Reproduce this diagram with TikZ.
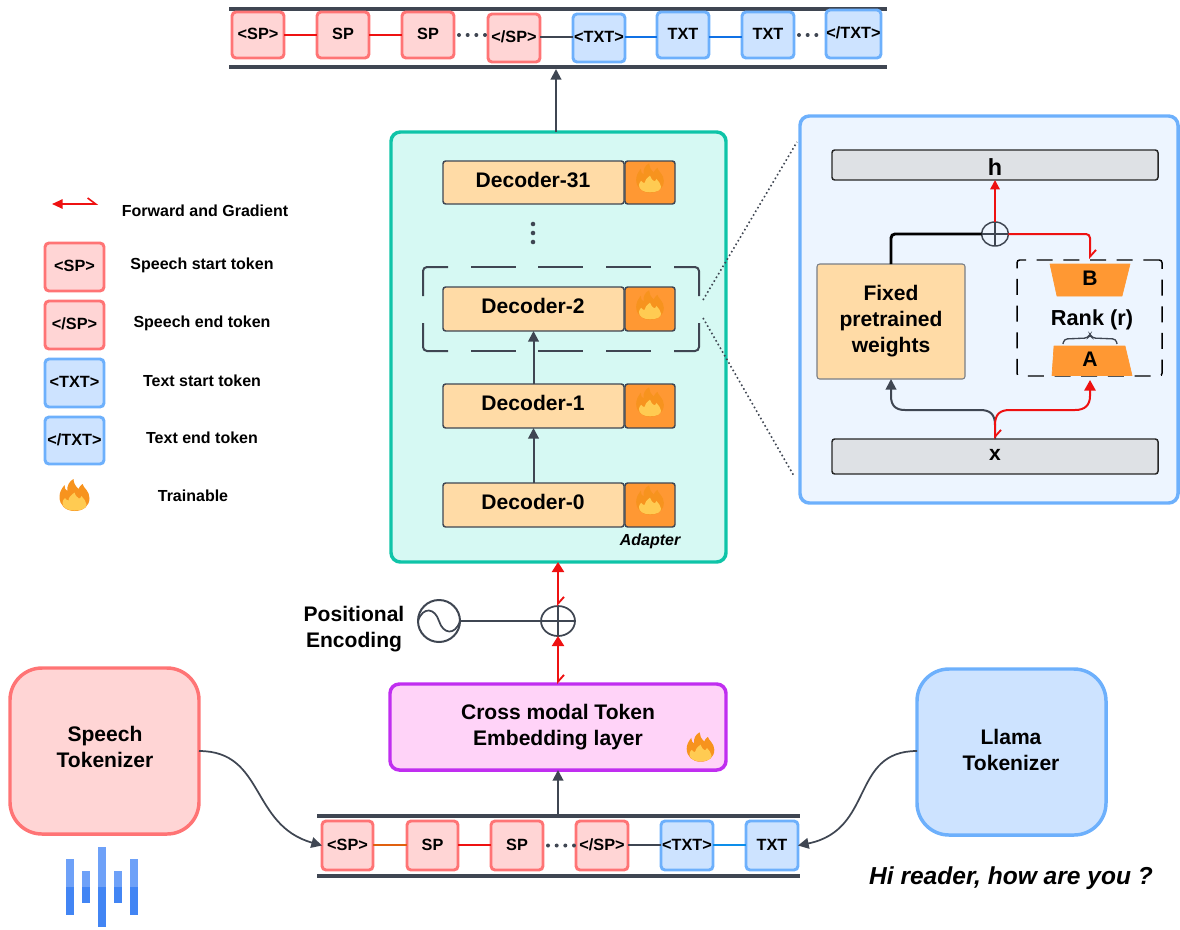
\documentclass[tikz,border=0pt]{standalone}
\usepackage{fontspec}
\setmainfont{Liberation Sans}
\usetikzlibrary{arrows.meta,calc,shapes.geometric}
\definecolor{ink}{HTML}{3F4652}
\definecolor{rd}{HTML}{EE1111}
\definecolor{spB}{HTML}{FF7475}
\definecolor{spF}{HTML}{FFD5D5}
\definecolor{txB}{HTML}{6DB0FC}
\definecolor{txF}{HTML}{CDE3FF}
\definecolor{tkB}{HTML}{0FC4A8}
\definecolor{tkF}{HTML}{D6F9F3}
\definecolor{puB}{HTML}{C02EF0}
\definecolor{puF}{HTML}{FFD3F8}
\definecolor{panF}{HTML}{EDF5FF}
\definecolor{decF}{HTML}{FFDBA6}
\definecolor{orF}{HTML}{FF9833}
\definecolor{grF}{HTML}{DEE1E5}
\definecolor{flO}{HTML}{F7931E}
\definecolor{flY}{HTML}{FFCB52}
\definecolor{bl}{HTML}{1071E5}
\definecolor{brn}{HTML}{E0600F}
\newcommand{\bx}[6]{%
  \pgfmathsetmacro{\cxx}{(#2+#4)/2}\pgfmathsetmacro{\cyy}{(#3+#5)/2}%
  \pgfmathsetmacro{\www}{abs(#4-#2)*0.75}\pgfmathsetmacro{\hhh}{abs(#5-#3)*0.75}%
  \node[#6, minimum width=\www pt, minimum height=\hhh pt] (#1) at (\cxx,\cyy)}
\tikzset{
  x=0.75pt,y=-0.75pt,
  every node/.style={inner sep=0pt,outer sep=0pt,text=black},
  sptok/.style={draw=spB,fill=spF,line width=2.2pt,rounded corners=3pt,font=\bfseries\fontsize{12.2pt}{14pt}\selectfont,text height=0.7em,text depth=0pt},
  txtok/.style={draw=txB,fill=txF,line width=2.2pt,rounded corners=3pt,font=\bfseries\fontsize{12.2pt}{14pt}\selectfont,text height=0.7em,text depth=0pt},
  dec/.style={draw=ink,fill=decF,line width=1.1pt,rounded corners=2pt},
  dectxt/.style={font=\bfseries\fontsize{15.8pt}{18pt}\selectfont},
  orbox/.style={draw=ink,fill=orF,line width=1.1pt,rounded corners=2pt},
  grbox/.style={draw=black!85,fill=grF,line width=1.1pt,rounded corners=2pt},
  bartxt/.style={font=\bfseries\fontsize{15.8pt}{19.5pt}\selectfont,align=center},
  legtxt/.style={font=\bfseries\fontsize{12pt}{14pt}\selectfont},
  inkarrow/.style={draw=ink,line width=1.5pt,-{Triangle[length=8pt,width=8pt]}},
  redarrow/.style={draw=rd,line width=1.6pt,{Triangle[length=7.5pt,width=9pt]}-{Straight Barb[left,length=5pt,width=9pt,line width=1.4pt]}},
  redbarb/.style={draw=rd,line width=1.5pt,-{Straight Barb[left,length=5pt,width=9pt,line width=1.4pt]}},
  dotline/.style={draw=ink,line width=3pt,line cap=round,dash pattern=on 0pt off 6.5pt},
  rule/.style={draw=ink,line width=2.3pt},
  flame/.pic={
    \fill[flO] (0,16) .. controls (-9,16) and (-15,10) .. (-15,2)
      .. controls (-15,-3) and (-13,-6) .. (-10,-10)
      .. controls (-10,-7) and (-9,-5) .. (-7,-4)
      .. controls (-8,-9) and (-5,-14) .. (-1,-16)
      .. controls (-1,-12) and (1,-9) .. (4,-6)
      .. controls (5,-8) and (6,-10) .. (8,-11)
      .. controls (9,-7) and (15,-4) .. (15,3)
      .. controls (15,11) and (9,16) .. (0,16) -- cycle;
    \fill[flY] (0,15.5) .. controls (-8,15.5) and (-12,12) .. (-12,8)
      .. controls (-12,6) and (-11,4) .. (-9.5,3)
      .. controls (-8.5,4.5) and (-7.5,5.5) .. (-6,5.5)
      .. controls (-6,2) and (-3,0) .. (0,-2.5)
      .. controls (1,1) and (3,2.5) .. (4.5,3.5)
      .. controls (5.5,3.5) and (6.5,2.5) .. (7,1)
      .. controls (9,4) and (12,6) .. (12,9.5)
      .. controls (12,13) and (8,15.5) .. (0,15.5) -- cycle;
  }
}
\begin{document}
\begin{tikzpicture}
\useasboundingbox (0,0) rectangle (1180,929);
% --- top sequence
\coordinate (tl1) at (229,9); \coordinate (tr1) at (887,9);
\coordinate (tl2) at (229,67); \coordinate (tr2) at (887,67);
\draw[rule] (tl1)--(tr1); \draw[rule] (tl2)--(tr2);
\bx{t1}{232}{12}{284}{58}{sptok} {<SP>};
\bx{t2}{317}{12}{369}{58}{sptok} {SP};
\bx{t3}{402}{12}{454}{58}{sptok} {SP};
\bx{t4}{488}{14}{540}{62}{sptok} {</SP>};
\bx{t5}{573}{14}{625}{62}{txtok} {<TXT>};
\bx{t6}{657}{12}{709}{58}{txtok} {TXT};
\bx{t7}{742}{12}{794}{58}{txtok} {TXT};
\bx{t8}{826}{10}{881}{58}{txtok} {</TXT>};
\draw[rd,line width=1.2pt] (t1.east|-0,35)--(t2.west|-0,35);
\draw[rd,line width=1.2pt] (t2.east|-0,35)--(t3.west|-0,35);
\draw[ink,line width=1.1pt] (t4.east|-0,37)--(t5.west|-0,37);
\draw[bl,line width=2pt] (t5.east|-0,37)--(t6.west|-0,37);
\draw[bl,line width=2pt] (t6.east|-0,37)--(t7.west|-0,37);
\draw[dotline] ($(t3.east|-0,35)+(5,0)$)--($(t4.west|-0,35)+(-1.5,0)$);
\draw[dotline] ($(t7.east|-0,35)+(5,0)$)--($(t8.west|-0,35)+(-1.5,0)$);
% --- adapter
\bx{adapter}{391}{132}{726}{562}{draw=tkB,fill=tkF,line width=2.6pt,rounded corners=7pt} {};
\draw[inkarrow] (adapter.north-|556,0)--(556,69);
\node[font=\bfseries\itshape\fontsize{12pt}{14pt}\selectfont] (adlab) at (650,541) {Adapter};
\bx{d31}{443}{161}{624}{204}{dec} {};
\node[dectxt] (d31t) at (533,180) {Decoder-31};
\bx{f31}{625}{161}{675}{204}{orbox} {};
\pic[scale=0.92] at (650,178) {flame};
\node[circle,fill=ink,minimum size=3.4pt] (v1) at (533,224) {};
\node[circle,fill=ink,minimum size=3.4pt] (v2) at (533,233) {};
\node[circle,fill=ink,minimum size=3.4pt] (v3) at (533,242) {};
\bx{dsh}{423}{267}{699}{351}{} {};
\draw[ink,line width=1.5pt,rounded corners=3pt] (423,296)--(423,267)--(448,267);
\draw[ink,line width=1.5pt,rounded corners=3pt] (674,267)--(699,267)--(699,296);
\draw[ink,line width=1.5pt,rounded corners=3pt] (423,323)--(423,351)--(448,351);
\draw[ink,line width=1.5pt,rounded corners=3pt] (674,351)--(699,351)--(699,323);
\foreach \xa in {471,538,606}{
  \draw[ink,line width=1.5pt] (\xa,267)--(\xa+45,267);
  \draw[ink,line width=1.5pt] (\xa,351)--(\xa+45,351);
}
\bx{d2}{443}{287}{624}{331}{dec} {};
\node[dectxt] (d2t) at (533,306) {Decoder-2};
\bx{f2}{625}{287}{675}{331}{orbox} {};
\pic[scale=0.92] at (650,305) {flame};
\bx{d1}{443}{384}{624}{428}{dec} {};
\node[dectxt] (d1t) at (533,403) {Decoder-1};
\bx{f1}{625}{384}{675}{428}{orbox} {};
\pic[scale=0.92] at (650,402) {flame};
\bx{d0}{443}{483}{624}{527}{dec} {};
\node[dectxt] (d0t) at (533,502) {Decoder-0};
\bx{f0}{625}{483}{675}{527}{orbox} {};
\pic[scale=0.92] at (650,500) {flame};
\draw[inkarrow] (d0.north)--(d1.south);
\draw[inkarrow] (d1.north)--(d2.south);
% --- panel
\bx{panel}{800}{116}{1178}{503}{draw=txB,fill=panF,line width=2.6pt,rounded corners=7pt} {};
\coordinate (za) at (703,300); \coordinate (zb) at (703,318);
\coordinate (zc) at (797,142); \coordinate (zd) at (794,476);
\draw[ink,line width=1.2pt,dotted] (za)--(zc);
\draw[ink,line width=1.2pt,dotted] (zb)--(zd);
\bx{h}{832}{150}{1158}{180}{grbox} {};
\node[font=\bfseries\fontsize{17.5pt}{20pt}\selectfont] (ht) at (995,167) {h};
\bx{x}{832}{439}{1158}{474}{grbox} {};
\node[font=\bfseries\fontsize{15.8pt}{18pt}\selectfont] (xt) at (995,455) {x};
\bx{fix}{817}{264}{965}{379}{draw=ink!70,fill=decF,line width=0.8pt,rounded corners=2pt,bartxt} {Fixed\\pretrained\\weights};
\bx{rk}{1017}{260}{1162}{376}{draw=black,line width=1.1pt,rounded corners=2pt,dash pattern=on 12pt off 8pt} {};
\filldraw[fill=orF,draw=orF,line width=0.5pt,line join=round] (1050,264)--(1130,264)--(1122,296)--(1057,296)--cycle;
\filldraw[fill=orF,draw=orF,line width=0.5pt,line join=round] (1054,346)--(1125,346)--(1132,375.5)--(1052,375.5)--cycle;
\node[font=\bfseries\fontsize{15.8pt}{18pt}\selectfont] (bt) at (1090,278) {B};
\node[font=\bfseries\fontsize{15.8pt}{18pt}\selectfont] (at) at (1090,359) {A};
\node[font=\bfseries\fontsize{16.3pt}{18pt}\selectfont] (rt) at (1092,320) {Rank (r)};
\draw[ink,line width=1pt,rounded corners=2.5pt] (1063,344)--(1064,339)--(1088,338)--(1090,334)--(1092,338)--(1116,339)--(1117,344);
\node[ellipse,draw=ink,fill=panF,line width=1.1pt,minimum width=20.2pt,minimum height=18pt] (op2) at (995,234) {};
\draw[ink,line width=1.1pt] (op2.north)--(op2.south) (op2.west)--(op2.east);
\draw[black,line width=2.2pt,rounded corners=3pt] (fix.north)--(891,234)--(op2.west);
\draw[rd,line width=1.5pt,-{Triangle[length=7pt,width=7pt]}] (op2.north)--(h.south);
\draw[redbarb,rounded corners=3pt] (op2.east)--(1090,234)--(1090,259);
\draw[inkarrow] (x.north)--(995,425) .. controls (995,414) and (990,410) .. (980,410) -- (905,410) .. controls (895,410) and (891,405) .. (891,396) -- (fix.south);
\draw[rd,line width=1.5pt,-{Triangle[length=8pt,width=8.5pt]}] (995,425) .. controls (995,414) and (1000,410) .. (1010,410) -- (1075,410) .. controls (1085,410) and (1090,405) .. (1090,396) -- (1090,380);
\draw[redbarb] (995,425)--(x.north);
% --- legend
\coordinate (la) at (98,204); \coordinate (lb) at (52,204);
\draw[rd,line width=1.4pt,{Straight Barb[left,length=6pt,width=9pt,line width=1.2pt]}-{Triangle[length=8pt,width=7pt]}] (la)--(lb);
\node[legtxt] (l0) at (205,211) {Forward and Gradient};
\bx{lg1}{45}{243}{104}{291}{sptok} {<SP>};
\node[legtxt] (l1) at (202,265) {Speech start token};
\bx{lg2}{45}{301}{104}{349}{sptok} {</SP>};
\node[legtxt] (l2) at (202,323) {Speech end token};
\bx{lg3}{45}{359}{104}{407}{txtok} {<TXT>};
\node[legtxt] (l3) at (202,381) {Text start token};
\bx{lg4}{45}{417}{104}{464}{txtok} {</TXT>};
\node[legtxt] (l4) at (202,438) {Text end token};
\pic at (74.5,495) {flame};
\node[legtxt] (l5) at (193,496) {Trainable};
% --- positional
\node[bartxt,text depth=0pt] (pos) at (354,627) {Positional\\Encoding};
\node[circle,draw=ink,line width=1.5pt,minimum size=31.5pt] (sine) at (439,621) {};
\draw[ink,line width=1.3pt] (sine.west) .. controls (423,606) and (435,608) .. (439,621) .. controls (443,634) and (455,636) .. (sine.east);
\node[ellipse,draw=ink,line width=1.3pt,minimum width=25.5pt,minimum height=22.5pt] (op1) at (558,621) {};
\draw[ink,line width=1.3pt] (op1.north)--(op1.south) (op1.west)--(op1.east);
\draw[ink,line width=1.5pt] (sine.east)--(op1.west);
% --- embedding
\bx{emb}{390}{684}{726}{770}{draw=puB,fill=puF,line width=2.6pt,rounded corners=7pt} {};
\node[bartxt] (embt) at (558,727) {Cross modal Token\\Embedding layer};
\pic[scale=0.92] at (700.5,747) {flame};
\draw[redarrow] (adapter.south-|558,0)--(op1.north);
\draw[redarrow] (op1.south)--(emb.north-|558,0);
% --- bottom sequence
\coordinate (bl1) at (317,816); \coordinate (br1) at (800,816);
\coordinate (bl2) at (317,876); \coordinate (br2) at (800,876);
\coordinate (bm) at (558,816);
\draw[rule] (bl1)--(br1); \draw[rule] (bl2)--(br2);
\draw[inkarrow] (bm)--(emb.south-|558,0);
\bx{b1}{322}{821}{373}{870}{sptok} {<SP>};
\bx{b2}{407}{821}{458}{870}{sptok} {SP};
\bx{b3}{491}{821}{543}{870}{sptok} {SP};
\bx{b4}{576}{821}{628}{870}{sptok} {</SP>};
\bx{b5}{661}{821}{713}{870}{txtok} {<TXT>};
\bx{b6}{746}{821}{798}{870}{txtok} {TXT};
\draw[brn,line width=1.2pt] (b1.east|-0,845)--(b2.west|-0,845);
\draw[rd,line width=1.2pt] (b2.east|-0,845)--(b3.west|-0,845);
\draw[ink,line width=1.2pt] (b4.east|-0,845)--(b5.west|-0,845);
\draw[bl!80!cyan,line width=1.2pt] (b5.east|-0,845)--(b6.west|-0,845);
\draw[dotline] ($(b3.east)+(5,0)$)--($(b4.west)+(-1,0)$);
% --- tokenizers
\bx{st}{10}{668}{199}{834}{draw=spB,fill=spF,line width=2.6pt,rounded corners=24pt} {};
\node[bartxt] (stt) at (105,747) {Speech\\Tokenizer};
\bx{lt}{917}{669}{1106}{835}{draw=txB,fill=txF,line width=2.6pt,rounded corners=24pt} {};
\node[bartxt] (ltt) at (1011,749.5) {Llama\\Tokenizer};
\draw[inkarrow,line width=1.3pt] (st.east|-0,751) .. controls (265,751) and (250,825) .. (b1.west);
\draw[inkarrow,line width=1.3pt] (lt.west|-0,751) .. controls (850,751) and (875,830) .. (b6.east);
\node[font=\bfseries\itshape\fontsize{18.4pt}{22pt}\selectfont] (hi) at (1011,878) {Hi reader, how are you ?};
% --- wave
\foreach \xa/\ya/\yb in {66/859/915,82/871/903,98/847/927,114/871/903,130/859/915}{
  \fill[color={rgb,255:red,110;green,161;blue,248}] (\xa,\ya) rectangle (\xa+8,887);
  \fill[color={rgb,255:red,66;green,133;blue,244}] (\xa,887) rectangle (\xa+8,\yb);
}
\end{tikzpicture}
\end{document}
